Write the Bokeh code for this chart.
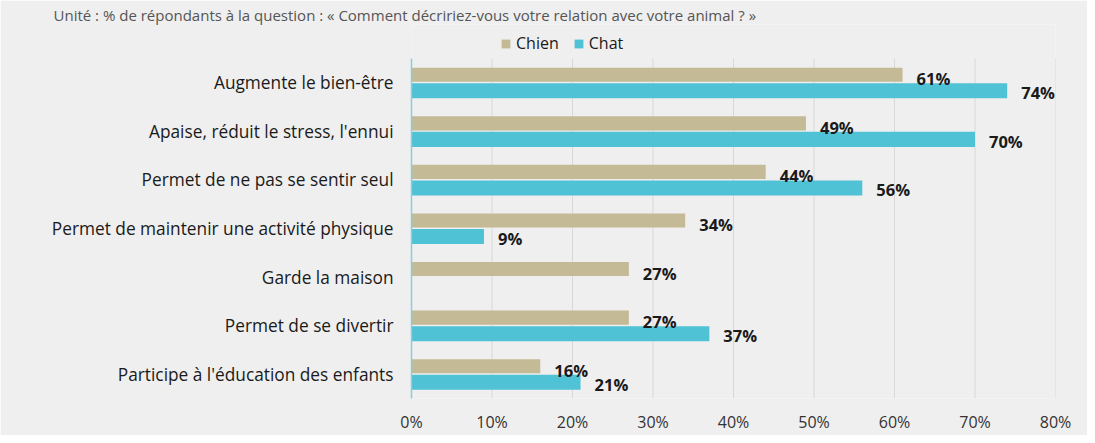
from bokeh.plotting import figure
from bokeh.models import (ColumnDataSource, Range1d, Legend, LegendItem, Title,
                          FixedTicker, PrintfTickFormatter)
from bokeh.transform import dodge
from bokeh.core.properties import value
from bokeh.embed import file_html
from bokeh.resources import INLINE

title_text = "Unité : % de répondants à la question : « Comment décririez-vous votre relation avec votre animal ? »"
categories = [
    "Augmente le bien-être",
    "Apaise, réduit le stress, l'ennui",
    "Permet de ne pas se sentir seul",
    "Permet de maintenir une activité physique",
    "Garde la maison",
    "Permet de se divertir",
    "Participe à l'éducation des enfants",
]
chien = [61, 49, 44, 34, 27, 27, 16]
chat = [74, 70, 56, 9, None, 37, 21]
series_names = ["Chien", "Chat"]
x_ticks = [0, 10, 20, 30, 40, 50, 60, 70, 80]

COL_CHIEN = "#c4ba95"
COL_CHAT = "#50c2d5"
BG = "#efefef"
FONT = "Open Sans"

n = len(categories)
ypos = [n - 0.5 - i for i in range(n)]          # first category at the top

src_chien = ColumnDataSource(dict(y=ypos, v=chien, lbl=[f"{v}%" for v in chien]))
chat_y = [y for y, v in zip(ypos, chat) if v is not None]
chat_vals = [v for v in chat if v is not None]
src_chat = ColumnDataSource(dict(y=chat_y, v=chat_vals, lbl=[f"{v}%" for v in chat_vals]))

p = figure(
    width=1087, height=435,
    y_range=Range1d(0, n + 0.70),
    x_range=Range1d(0, 80),
    output_backend="svg", toolbar_location=None,
    min_border_left=411, min_border_right=32, min_border_top=24, min_border_bottom=33,
    background_fill_color=BG, border_fill_color=BG, outline_line_color=None,
)
p.title = Title(text=title_text, text_font=FONT, text_font_size="15px",
                text_font_style="normal", text_color="#555555", align="left",
                offset=-358, standoff=0)

# vertical grid lines (stop at the top category band)
grid_src = ColumnDataSource(dict(x=x_ticks[1:], y0=[0] * (len(x_ticks) - 1), y1=[n] * (len(x_ticks) - 1)))
p.segment(x0="x", x1="x", y0="y0", y1="y1", source=grid_src, line_color="#d8d8d8", line_width=1)

r_chien = p.hbar(y=dodge("y", 0.165), right="v", left=0, height=0.29,
                 source=src_chien, fill_color=COL_CHIEN, line_color=None)
r_chat = p.hbar(y=dodge("y", -0.165), right="v", left=0, height=0.31,
                source=src_chat, fill_color=COL_CHAT, line_color=None)

p.text(x="v", y=dodge("y", 0.165), text="lbl", source=src_chien,
       x_offset=14, y_offset=4, text_baseline="middle", text_align="left",
       text_font=value(FONT), text_font_style="bold", text_font_size="16.5px", text_color="#1a1a1a")
p.text(x="v", y=dodge("y", -0.165), text="lbl", source=src_chat,
       x_offset=14, y_offset=2, text_baseline="middle", text_align="left",
       text_font=value(FONT), text_font_style="bold", text_font_size="16.5px", text_color="#1a1a1a")

# axes
p.xaxis.ticker = FixedTicker(ticks=x_ticks)
p.xaxis.formatter = PrintfTickFormatter(format="%d%%")
p.xaxis.axis_line_color = None
p.xaxis.major_tick_line_color = None
p.xaxis.minor_tick_line_color = None
p.xaxis.major_label_standoff = 6
p.xaxis.major_label_text_font = FONT
p.xaxis.major_label_text_font_size = "16px"
p.xaxis.major_label_text_color = "#333333"

p.yaxis.ticker = FixedTicker(ticks=ypos)
p.yaxis.major_label_overrides = {y: c for y, c in zip(ypos, categories)}
p.yaxis.bounds = (0, n)
p.yaxis.axis_line_color = "#86d0de"
p.yaxis.axis_line_width = 1.5
p.yaxis.major_tick_line_color = None
p.yaxis.minor_tick_line_color = None
p.yaxis.major_label_standoff = 12
p.yaxis.major_label_text_font = FONT
p.yaxis.major_label_text_font_size = "17.3px"
p.yaxis.major_label_text_color = "#1a1a1a"

p.xgrid.grid_line_color = None
p.ygrid.grid_line_color = None

legend = Legend(items=[LegendItem(label=series_names[0], renderers=[r_chien]),
                       LegendItem(label=series_names[1], renderers=[r_chat])],
                orientation="horizontal", location=(89, 344),
                background_fill_alpha=0, border_line_color=None,
                label_text_font=FONT, label_text_font_size="16px", label_text_color="#1a1a1a",
                label_height=22, glyph_width=11, glyph_height=11, label_standoff=5, spacing=14,
                padding=0, margin=0)
p.add_layout(legend, "center")

open("out.html", "w").write(file_html(p, INLINE))
